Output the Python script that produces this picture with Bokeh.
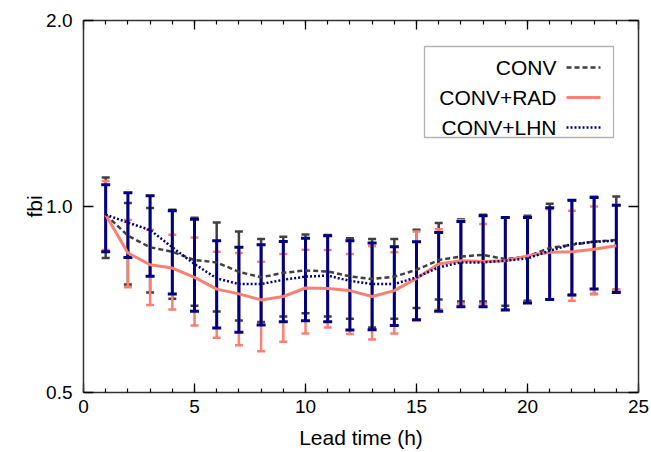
from bokeh.plotting import figure
from bokeh.models import (ColumnDataSource, Whisker, TeeHead, LinearAxis, LogAxis,
                          FixedTicker, SingleIntervalTicker, CustomJSTickFormatter,
                          Range1d, Label, BoxAnnotation, Arrow)
from bokeh.embed import file_html
from bokeh.resources import INLINE

# ---- data ----
lead = list(range(1, 25))
conv = [0.970, 0.897, 0.859, 0.845, 0.819, 0.812, 0.784, 0.768, 0.781, 0.788, 0.785, 0.771,
        0.763, 0.770, 0.790, 0.819, 0.830, 0.835, 0.822, 0.830, 0.857, 0.867, 0.877, 0.883]
conv_hi = [1.114, 1.013, 0.994, 0.988, 0.959, 0.942, 0.911, 0.886, 0.893, 0.901, 0.899, 0.888,
           0.886, 0.886, 0.917, 0.940, 0.954, 0.970, 0.960, 0.966, 1.010, 1.024, 1.037, 1.038]
conv_lo = [0.825, 0.748, 0.726, 0.709, 0.691, 0.676, 0.654, 0.650, 0.664, 0.672, 0.664, 0.658,
           0.637, 0.658, 0.685, 0.707, 0.702, 0.702, 0.691, 0.704, 0.707, 0.719, 0.722, 0.733]
rad = [0.970, 0.841, 0.805, 0.795, 0.768, 0.735, 0.722, 0.706, 0.715, 0.738, 0.737, 0.731,
       0.715, 0.731, 0.765, 0.807, 0.817, 0.815, 0.817, 0.832, 0.843, 0.845, 0.853, 0.864]
rad_hi = [1.100, 0.951, 0.917, 0.900, 0.891, 0.845, 0.841, 0.814, 0.838, 0.851, 0.850, 0.838,
          0.862, 0.843, 0.911, 0.919, 0.951, 0.937, 0.959, 0.960, 0.990, 0.984, 1.000, 1.006]
rad_lo = [0.850, 0.740, 0.693, 0.681, 0.642, 0.613, 0.596, 0.583, 0.604, 0.623, 0.637, 0.622,
          0.609, 0.623, 0.654, 0.681, 0.696, 0.696, 0.681, 0.699, 0.707, 0.704, 0.722, 0.733]
lhn = [0.970, 0.942, 0.916, 0.859, 0.807, 0.765, 0.749, 0.749, 0.761, 0.770, 0.773, 0.758,
       0.749, 0.749, 0.768, 0.797, 0.812, 0.812, 0.817, 0.824, 0.848, 0.869, 0.877, 0.880]
lhn_hi = [1.084, 1.053, 1.041, 0.984, 0.954, 0.880, 0.859, 0.867, 0.878, 0.888, 0.897, 0.880,
          0.873, 0.861, 0.877, 0.908, 0.946, 0.966, 0.960, 0.960, 0.995, 1.024, 1.034, 1.005]
lhn_lo = [0.845, 0.827, 0.771, 0.722, 0.677, 0.636, 0.626, 0.643, 0.651, 0.653, 0.651, 0.631,
          0.632, 0.642, 0.656, 0.677, 0.688, 0.688, 0.680, 0.698, 0.707, 0.719, 0.735, 0.726]
series_names = ["CONV", "CONV+RAD", "CONV+LHN"]
x_ticks = [0, 5, 10, 15, 20, 25]
y_ticks = [0.5, 1.0, 2.0]

FONT = "Liberation Sans"
GREY = "#404040"
RED = "#fa8072"
BLUE = "#000080"

p = figure(width=651, height=452, output_backend="svg", toolbar_location=None,
           y_axis_type="log", x_range=Range1d(0, 25), y_range=Range1d(0.5, 2.0),
           min_border_left=83, min_border_right=13, min_border_top=20, min_border_bottom=60)
p.outline_line_color = None
p.xgrid.visible = False
p.ygrid.visible = False
p.background_fill_color = "white"

src = ColumnDataSource(dict(x=lead, conv=conv, conv_hi=conv_hi, conv_lo=conv_lo,
                            rad=rad, rad_hi=rad_hi, rad_lo=rad_lo,
                            lhn=lhn, lhn_hi=lhn_hi, lhn_lo=lhn_lo))

p.line("x", "conv", source=src, line_color=GREY, line_width=2.5, line_dash="5 3")
p.line("x", "rad", source=src, line_color=RED, line_width=3)
p.line("x", "lhn", source=src, line_color=BLUE, line_width=2.5, line_dash="2 2")

def add_whisker(up, lo, color, width, head):
    w = Whisker(source=src, base="x", upper=up, lower=lo, line_color=color, line_width=width,
                upper_head=TeeHead(size=head, line_color=color, line_width=width),
                lower_head=TeeHead(size=head, line_color=color, line_width=width))
    p.add_layout(w)

add_whisker("conv_hi", "conv_lo", GREY, 2.5, 8)
add_whisker("rad_hi", "rad_lo", RED, 2.5, 8)
add_whisker("lhn_hi", "lhn_lo", BLUE, 3, 9)

# ---- axes ----
xt = SingleIntervalTicker(interval=5, num_minor_ticks=5)
yt = FixedTicker(ticks=y_ticks, minor_ticks=[])

def style_axis(ax):
    ax.axis_line_color = "#333333"
    ax.axis_line_width = 1.5
    ax.major_tick_line_color = "black"
    ax.minor_tick_line_color = "black"
    ax.major_tick_line_width = 1.3
    ax.minor_tick_line_width = 1.2
    ax.major_tick_out = 0
    ax.minor_tick_out = 0
    ax.major_label_text_font = FONT
    ax.major_label_text_font_size = "19px"
    ax.major_label_text_color = "black"
    ax.axis_label_text_font = FONT
    ax.axis_label_text_font_size = "21px"
    ax.axis_label_text_font_style = "normal"
    ax.axis_label_text_color = "black"

xa = p.xaxis[0]
xa.ticker = xt
style_axis(xa)
xa.major_tick_in = 9
xa.minor_tick_in = 4
xa.major_label_standoff = 7
xa.axis_label = "Lead time (h)"
xa.axis_label_standoff = 10

ya = p.yaxis[0]
ya.ticker = yt
style_axis(ya)
ya.major_tick_in = 10
ya.minor_tick_in = 0
ya.formatter = CustomJSTickFormatter(code="return tick.toFixed(1)")
ya.major_label_standoff = 11
ya.axis_label = "fbi"
ya.axis_label_standoff = -3

top = LinearAxis(ticker=SingleIntervalTicker(interval=5, num_minor_ticks=5),
                 formatter=CustomJSTickFormatter(code="return ''"))
style_axis(top)
top.major_tick_in = 9
top.minor_tick_in = 4
top.major_label_standoff = 0
p.add_layout(top, "above")

right = LogAxis(ticker=FixedTicker(ticks=y_ticks, minor_ticks=[]),
                formatter=CustomJSTickFormatter(code="return ''"))
style_axis(right)
right.major_tick_in = 10
right.minor_tick_in = 0
right.major_label_standoff = 0
p.add_layout(right, "right")

# ---- legend (text right, sample on right) ----
box = BoxAnnotation(left=341, right=530, top=346, bottom=255,
                    left_units="screen", right_units="screen",
                    top_units="screen", bottom_units="screen",
                    fill_color="white", fill_alpha=1.0,
                    line_color="black", line_width=1.3)
p.add_layout(box)
rows_y = [325, 295, 265]
styles = [(GREY, 2.5, "5 3"), (RED, 3, "solid"), (BLUE, 2.5, "2 2")]
for name, yy, (c, lw, dash) in zip(series_names, rows_y, styles):
    p.add_layout(Label(x=473, y=yy, x_units="screen", y_units="screen", text=name,
                       text_align="right", text_baseline="middle",
                       text_font=FONT, text_font_size="21px", text_color="black"))
    p.add_layout(Arrow(end=None, x_start=483, y_start=yy, x_end=517, y_end=yy,
                       start_units="screen", end_units="screen",
                       line_color=c, line_width=lw, line_dash=dash))

open("out.html", "w").write(file_html(p, INLINE))
